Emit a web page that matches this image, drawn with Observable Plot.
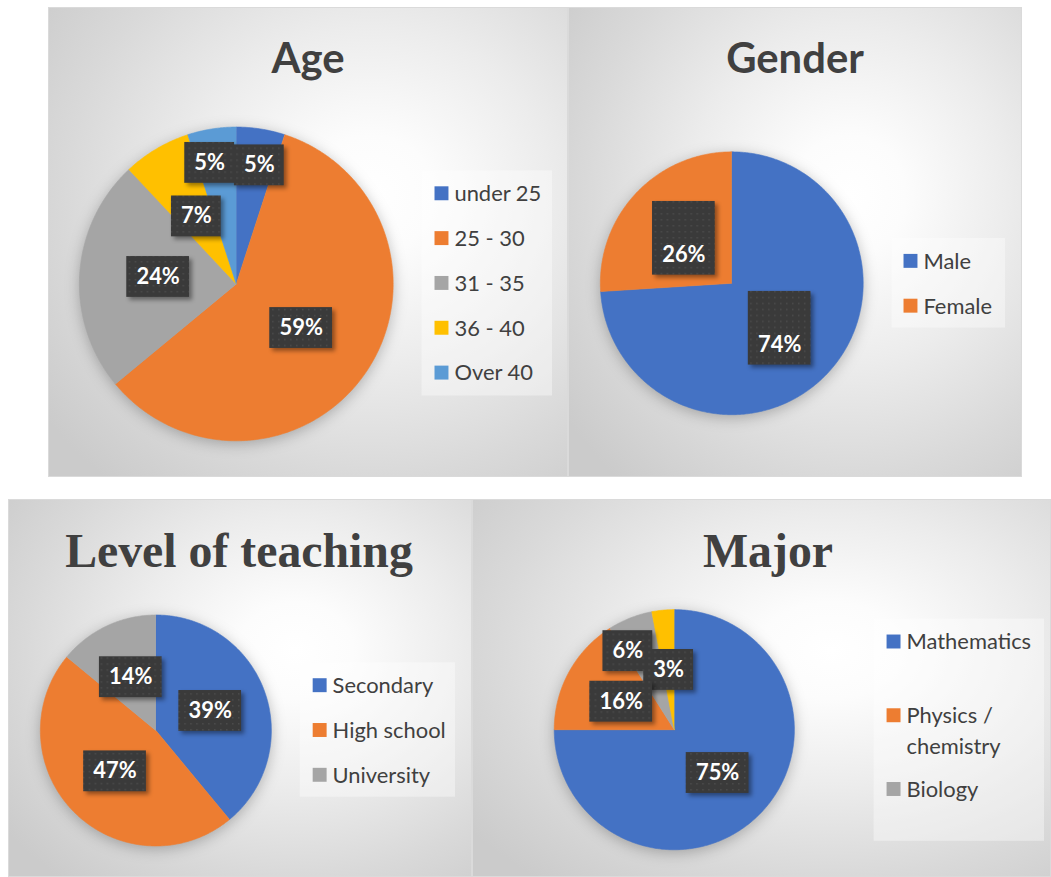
<!DOCTYPE html>
<html>
<head>
<meta charset="utf-8">
<script src="https://cdn.jsdelivr.net/npm/d3@7"></script>
<script src="https://cdn.jsdelivr.net/npm/@observablehq/plot@0.6"></script>
<style>
  body { margin: 0; background: #ffffff; width: 1051px; height: 877px; overflow: hidden; position: relative; }
  .panel { position: absolute; box-sizing: border-box; border: 1px solid #dadada; overflow: hidden;
    background: radial-gradient(ellipse 78% 80% at 62% 40%, #ffffff 0%, #fcfcfc 16%, #ececec 45%, #d9d9d9 75%, #cbcbcb 100%); }
  .panel svg { position: absolute; left: 0; top: 0; }
</style>
</head>
<body>
<script>
// ---------------- data ----------------
const ageCategories = ["under 25", "25 - 30", "31 - 35", "36 - 40", "Over 40"];
const ageValues = [5, 59, 24, 7, 5];
const ageColors = ["#4472C4", "#ED7D31", "#A5A5A5", "#FFC000", "#5B9BD5"];

const genderCategories = ["Male", "Female"];
const genderValues = [74, 26];
const genderColors = ["#4472C4", "#ED7D31"];

const levelCategories = ["Secondary", "High school", "University"];
const levelValues = [39, 47, 14];
const levelColors = ["#4472C4", "#ED7D31", "#A5A5A5"];

const majorCategories = ["Mathematics", "Physics / chemistry", "Biology", "Other"];
const majorValues = [75, 16, 6, 3];
const majorColors = ["#4472C4", "#ED7D31", "#A5A5A5", "#FFC000"];
const majorLegendShown = 3;

// ---------------- drawing ----------------
let uid = 0;
function panel(cfg) {
  const div = document.createElement("div");
  div.className = "panel";
  Object.assign(div.style, {
    left: cfg.left + "px", top: cfg.top + "px",
    width: cfg.width + "px", height: cfg.height + "px"
  });
  document.body.appendChild(div);

  const rows = cfg.cats.map((c, i) => ({cat: c, value: cfg.vals[i], i}));
  const arcs = d3.pie().sort(null).value(d => d.value).startAngle(0).endAngle(2 * Math.PI)(rows);

  const pts = [];
  arcs.forEach(a => {
    pts.push({cat: a.data.cat, x: 0, y: 0});
    const n = Math.max(2, Math.ceil((a.endAngle - a.startAngle) / 0.01));
    for (let k = 0; k <= n; k++) {
      const t = a.startAngle + (a.endAngle - a.startAngle) * k / n;
      pts.push({cat: a.data.cat, x: Math.sin(t), y: Math.cos(t)});
    }
  });

  const labels = arcs.map((a, i) => {
    const mid = (a.startAngle + a.endAngle) / 2 + (cfg.labelTurn ? cfg.labelTurn[i] : 0) * Math.PI / 180;
    const r = cfg.labelR[i];
    return {text: a.data.value + "%", lx: r * Math.sin(mid), ly: r * Math.cos(mid)};
  });
  const short = labels.filter(d => d.text.length < 3);
  const long = labels.filter(d => d.text.length >= 3);

  const [w2, w3, bh] = cfg.box;
  const boxMark = (data, w) => Plot.rect(data, {
    x1: "lx", x2: "lx", y1: "ly", y2: "ly",
    insetLeft: -w / 2, insetRight: -w / 2, insetTop: -bh / 2, insetBottom: -bh / 2,
    fill: "#3b3b3b"
  });

  const svg = Plot.plot({
    width: cfg.width, height: cfg.height, margin: 0,
    x: {domain: [-1, 1], range: [cfg.cx - cfg.r, cfg.cx + cfg.r], axis: null},
    y: {domain: [-1, 1], range: [cfg.cy + cfg.r, cfg.cy - cfg.r], axis: null},
    color: {domain: cfg.cats, range: cfg.colors},
    style: {background: "transparent", overflow: "visible"},
    marks: [
      Plot.line(pts, {x: "x", y: "y", z: "cat", fill: "cat", stroke: "cat", strokeWidth: 0.6}),
      boxMark(short, w2),
      boxMark(long, w3),
      Plot.text(labels, {x: "lx", y: "ly", text: "text", fill: "white", fontSize: 22, fontWeight: "bold",
        fontFamily: "Lato, 'Open Sans', sans-serif", dy: cfg.textDy || 0})
    ]
  });
  div.appendChild(svg);

  const s = d3.select(svg);
  const id = "dots" + (uid++);
  const defs = s.insert("defs", ":first-child");
  const pat = defs.append("pattern").attr("id", id).attr("patternUnits", "userSpaceOnUse")
    .attr("width", 6).attr("height", 6);
  pat.append("rect").attr("width", 6).attr("height", 6).attr("fill", "#3a3a3a");
  pat.append("rect").attr("x", 2).attr("y", 2).attr("width", 1.5).attr("height", 1.5).attr("fill", "#4c4c4c");
  s.selectAll('g[aria-label="rect"] rect').attr("fill", `url(#${id})`);
  s.selectAll('g[aria-label="rect"]').style("filter", "drop-shadow(3px 3px 2px rgba(0,0,0,0.4))");
  s.selectAll('g[aria-label="line"]').style("filter", "drop-shadow(0px 3px 7px rgba(0,0,0,0.25))");

  // title
  s.append("text").attr("x", cfg.title.x).attr("y", cfg.title.y).attr("text-anchor", "middle")
    .attr("fill", "#404040").attr("font-weight", "bold").attr("font-size", cfg.title.size)
    .attr("font-family", cfg.title.font).text(cfg.title.text);

  // legend
  const L = cfg.legend;
  const g = s.append("g").attr("text-anchor", "start");
  g.append("rect").attr("x", L.x).attr("y", L.y).attr("width", L.w).attr("height", L.h)
    .attr("fill", "rgba(255,255,255,0.38)");
  const shown = cfg.legendShown || cfg.cats.length;
  cfg.cats.slice(0, shown).forEach((c, i) => {
    const yc = L.first + L.step * i;
    g.append("rect").attr("x", L.sx).attr("y", yc - 7).attr("width", 14).attr("height", 14).attr("fill", cfg.colors[i]);
    const lines = c.split(/(?<=\/)\s+/);
    const t = g.append("text").attr("x", L.sx + 20).attr("y", yc).attr("text-anchor", "start")
      .attr("fill", "#404040").attr("font-size", 22).attr("font-family", "Lato, 'Open Sans', sans-serif");
    lines.forEach((ln, j) => t.append("tspan").attr("x", L.sx + 20).attr("dy", j === 0 ? "0.36em" : 31).text(ln));
  });
}

panel({
  left: 48, top: 7, width: 520, height: 470,
  cats: ageCategories, vals: ageValues, colors: ageColors,
  cx: 187.5, cy: 276.5, r: 157.5,
  labelR: [0.77, 0.5, 0.5, 0.5, 0.79], labelTurn: [2, 0, 1.5, 0, -3.4],
  box: [50, 63, 41],
  title: {text: "Age", x: 260, y: 65, size: 42, font: "Lato, 'Open Sans', sans-serif"},
  legend: {x: 374, y: 163, w: 131, h: 226, sx: 387, first: 186, step: 45}
});

panel({
  left: 568, top: 7, width: 454, height: 470,
  cats: genderCategories, vals: genderValues, colors: genderColors,
  cx: 163, cy: 276, r: 132,
  labelR: [0.5, 0.5],
  box: [63, 63, 74], textDy: 17,
  title: {text: "Gender", x: 227, y: 65, size: 42, font: "Lato, 'Open Sans', sans-serif"},
  legend: {x: 324, y: 231, w: 114, h: 90, sx: 336, first: 254, step: 45}
});

panel({
  left: 8, top: 499, width: 464, height: 378,
  cats: levelCategories, vals: levelValues, colors: levelColors,
  cx: 147, cy: 231, r: 116,
  labelR: [0.5, 0.5, 0.51],
  box: [63, 63, 41],
  title: {text: "Level of teaching", x: 231, y: 67, size: 48, font: "'Liberation Serif', 'Times New Roman', serif"},
  legend: {x: 292, y: 163, w: 156, h: 135, sx: 305, first: 186, step: 45}
});

panel({
  left: 472, top: 499, width: 579, height: 378,
  cats: majorCategories, vals: majorValues, colors: majorColors, legendShown: majorLegendShown,
  cx: 201.5, cy: 230, r: 120.5,
  labelR: [0.51, 0.5, 0.76, 0.5], labelTurn: [0, -1, -9, 0],
  box: [50, 63, 41],
  title: {text: "Major", x: 296, y: 67, size: 48, font: "'Liberation Serif', 'Times New Roman', serif"},
  legend: {x: 402, y: 119, w: 171, h: 223, sx: 415, first: 142, step: 74}
});
</script>
</body>
</html>
